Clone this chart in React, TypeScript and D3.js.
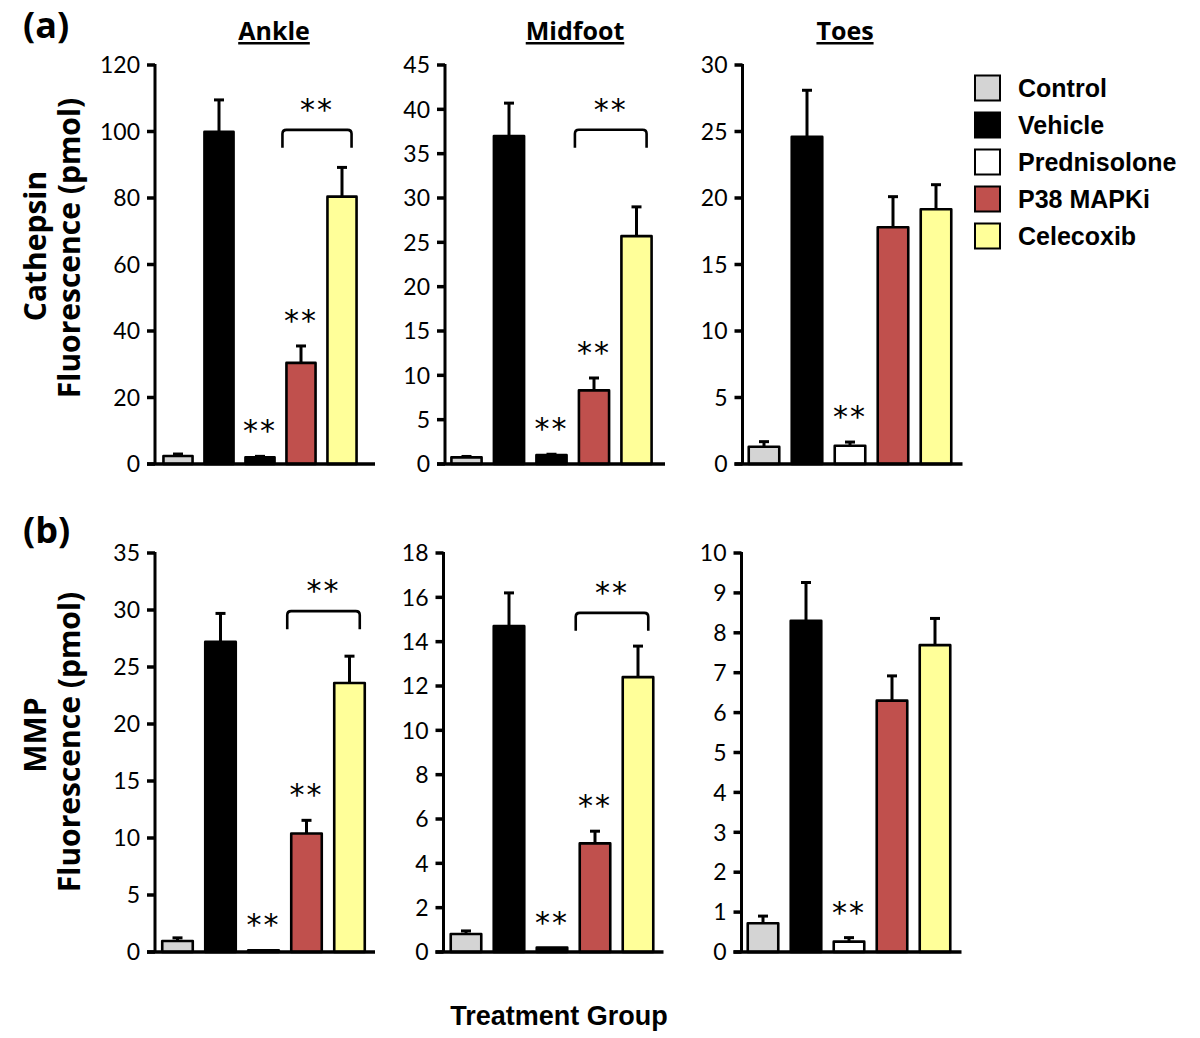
import React from "react";
import * as d3 from "d3";

// ---------- data ----------
const categories = ["Control", "Vehicle", "Prednisolone", "P38 MAPKi", "Celecoxib"];
const categoryColors = ["#d4d4d4", "#000000", "#ffffff", "#c0504d", "#ffff99"];

const regions = ["Ankle", "Midfoot", "Toes"];

const cathepsinAnkleMean = [2.4, 99.9, 2.0, 30.4, 80.4];
const cathepsinAnkleErr = [0.6, 9.6, 0.3, 5.1, 8.8];
const cathepsinMidfootMean = [0.75, 37.0, 1.0, 8.3, 25.7];
const cathepsinMidfootErr = [0.1, 3.7, 0.1, 1.4, 3.3];
const cathepsinToesMean = [1.3, 24.6, 1.37, 17.8, 19.15];
const cathepsinToesErr = [0.38, 3.5, 0.28, 2.3, 1.85];

const mmpAnkleMean = [0.96, 27.2, 0.15, 10.4, 23.6];
const mmpAnkleErr = [0.28, 2.5, 0, 1.15, 2.35];
const mmpMidfootMean = [0.81, 14.7, 0.2, 4.9, 12.4];
const mmpMidfootErr = [0.14, 1.5, 0, 0.55, 1.4];
const mmpToesMean = [0.72, 8.3, 0.26, 6.3, 7.69];
const mmpToesErr = [0.18, 0.96, 0.1, 0.62, 0.67];

const cathepsinAxisMax = [120, 45, 30];
const cathepsinTickStep = [20, 5, 5];
const mmpAxisMax = [35, 18, 10];
const mmpTickStep = [5, 2, 1];

// significance marks: [panelIndex, category]
const sigSingles: [number, string][] = [
  [0, "Prednisolone"], [0, "P38 MAPKi"],
  [1, "Prednisolone"], [1, "P38 MAPKi"],
  [2, "Prednisolone"],
  [3, "Prednisolone"], [3, "P38 MAPKi"],
  [4, "Prednisolone"], [4, "P38 MAPKi"],
  [5, "Prednisolone"],
];
// brackets between P38 MAPKi and Celecoxib: [panelIndex, bracket level in data units]
const sigBrackets: [number, number][] = [
  [0, 100.5], [1, 37.7], [3, 29.9], [4, 15.3],
];

// ---------- layout ----------
const rowsLayout = [
  { yTop: 65, y0: 464 },
  { yTop: 553, y0: 952 },
];
// per panel: axis x, first bar centre, bar step
const panelLayout = [
  { axisX: 155, first: 178, step: 41 },
  { axisX: 445, first: 466.5, step: 42.5 },
  { axisX: 742.5, first: 764, step: 43 },
  { axisX: 155, first: 177.5, step: 43 },
  { axisX: 443.5, first: 466, step: 43 },
  { axisX: 741.5, first: 763, step: 43 },
];
const titleX = [274, 575, 845];

const calibri = "Lato, 'Open Sans', sans-serif";
const boldSans = "'Open Sans', Lato, sans-serif";
const arial = "'Liberation Sans', Arial, sans-serif";

const panelsData = [
  { row: 0, mean: cathepsinAnkleMean, err: cathepsinAnkleErr, max: cathepsinAxisMax[0], tick: cathepsinTickStep[0] },
  { row: 0, mean: cathepsinMidfootMean, err: cathepsinMidfootErr, max: cathepsinAxisMax[1], tick: cathepsinTickStep[1] },
  { row: 0, mean: cathepsinToesMean, err: cathepsinToesErr, max: cathepsinAxisMax[2], tick: cathepsinTickStep[2] },
  { row: 1, mean: mmpAnkleMean, err: mmpAnkleErr, max: mmpAxisMax[0], tick: mmpTickStep[0] },
  { row: 1, mean: mmpMidfootMean, err: mmpMidfootErr, max: mmpAxisMax[1], tick: mmpTickStep[1] },
  { row: 1, mean: mmpToesMean, err: mmpToesErr, max: mmpAxisMax[2], tick: mmpTickStep[2] },
];

function makeScales(i: number) {
  const p = panelsData[i];
  const L = panelLayout[i];
  const r = rowsLayout[p.row];
  const x0 = L.first - 0.455 * L.step;
  const x1 = x0 + 4.91 * L.step;
  const x = d3.scaleBand<string>().domain(categories).range([x0, x1]).paddingInner(0.29).paddingOuter(0.1);
  const y = d3.scaleLinear().domain([0, p.max]).range([r.y0, r.yTop]);
  return { x, y, L, r, p };
}

function Stars({ cx, cy }: { cx: number; cy: number }) {
  return (
    <text x={cx} y={cy + 17} textAnchor="middle" fontFamily="'DejaVu Sans', sans-serif" fontSize={30}
      letterSpacing={2} fill="#000">
      **
    </text>
  );
}

function Panel({ i }: { i: number }) {
  const { x, y, L, r, p } = makeScales(i);
  const bw = x.bandwidth();
  const ticks = d3.range(0, p.max + p.tick / 2, p.tick);
  return (
    <g>
      {/* bars */}
      {categories.map((c, k) => {
        const v = p.mean[k];
        const h = r.y0 - y(v);
        const col = categoryColors[k];
        // very short white bars render as solid outline in the original
        const fill = col === "#ffffff" && h < 10 ? "#000" : col;
        return (
          <rect key={c} x={x(c)} y={y(v)} width={bw} height={h}
            fill={fill} stroke="#000" strokeWidth={2.6} strokeLinejoin="round" />
        );
      })}
      {/* error bars */}
      {categories.map((c, k) => {
        const v = p.mean[k];
        const e = p.err[k];
        if (!e) return null;
        const cx = (x(c) as number) + bw / 2;
        return (
          <g key={c} stroke="#000" strokeWidth={3}>
            <line x1={cx} x2={cx} y1={y(v)} y2={y(v + e)} />
            <line x1={cx - 5} x2={cx + 5} y1={y(v + e)} y2={y(v + e)} />
          </g>
        );
      })}
      {/* axes */}
      <line x1={L.axisX} x2={L.axisX} y1={r.yTop - 1} y2={r.y0} stroke="#000" strokeWidth={3} />
      <line x1={L.axisX - 8} x2={L.axisX + 220} y1={r.y0} y2={r.y0} stroke="#000" strokeWidth={3.5} />
      {ticks.map((t) => (
        <g key={t}>
          <line x1={L.axisX - 8} x2={L.axisX} y1={y(t)} y2={y(t)} stroke="#000" strokeWidth={3.5} />
          <text x={L.axisX - 15} y={y(t)} dy="0.36em" textAnchor="end" fontFamily={calibri} fontSize={23} fill="#000">
            {t}
          </text>
        </g>
      ))}
    </g>
  );
}

export default function App() {
  return (
    <svg width={1200} height={1038} style={{ display: "block", position: "absolute", left: 0, top: 0 }}
      xmlns="http://www.w3.org/2000/svg">
      <rect width={1200} height={1038} fill="#fff" />
      {/* panel letters */}
      <text x={23} y={38} fontFamily={boldSans} fontWeight="bold" fontSize={36}>(a)</text>
      <text x={23} y={543} fontFamily={boldSans} fontWeight="bold" fontSize={36}>(b)</text>
      {/* titles */}
      {regions.map((t, j) => (
        <text key={t} x={titleX[j]} y={40} textAnchor="middle" fontFamily={boldSans} fontWeight="bold"
          fontSize={25} textDecoration="underline">
          {t}
        </text>
      ))}
      {/* y labels */}
      <g fontFamily={boldSans} fontWeight="bold" fontSize={30} textAnchor="middle">
        <text transform="translate(46,246) rotate(-90)">Cathepsin</text>
        <text transform="translate(80,248) rotate(-90)">Fluorescence (pmol)</text>
        <text transform="translate(46,735) rotate(-90)">MMP</text>
        <text transform="translate(80,742) rotate(-90)">Fluorescence (pmol)</text>
      </g>
      {panelsData.map((_, i) => <Panel key={i} i={i} />)}
      {/* significance */}
      {sigSingles.map(([pi, c], k) => {
        const { x, y, p } = makeScales(pi);
        const idx = categories.indexOf(c);
        const top = y(p.mean[idx] + p.err[idx]);
        return <Stars key={k} cx={(x(c) as number) + x.bandwidth() / 2} cy={top - 32} />;
      })}
      {sigBrackets.map(([pi, lvl], k) => {
        const { x, y } = makeScales(pi);
        const xa = (x("P38 MAPKi") as number) - 4;
        const xb = (x("Celecoxib") as number) + x.bandwidth() - 5;
        const yy = y(lvl);
        const rr = 4;
        const path = `M${xa},${yy + 18} L${xa},${yy + rr} Q${xa},${yy} ${xa + rr},${yy} L${xb - rr},${yy} Q${xb},${yy} ${xb},${yy + rr} L${xb},${yy + 18}`;
        return (
          <g key={k}>
            <path d={path} fill="none" stroke="#000" strokeWidth={2.6} />
            <Stars cx={(xa + xb) / 2} cy={yy - 27} />
          </g>
        );
      })}
      {/* legend */}
      {categories.map((c, k) => {
        const cy = 88 + k * 37;
        return (
          <g key={c}>
            <rect x={975} y={cy - 12.5} width={25} height={25} fill={categoryColors[k]} stroke="#000" strokeWidth={2} />
            <text x={1018} y={cy + 9} fontFamily={arial} fontWeight="bold" fontSize={25}>{c}</text>
          </g>
        );
      })}
      {/* x label */}
      <text x={559} y={1025} textAnchor="middle" fontFamily={arial} fontWeight="bold" fontSize={27}>
        Treatment Group
      </text>
    </svg>
  );
}
